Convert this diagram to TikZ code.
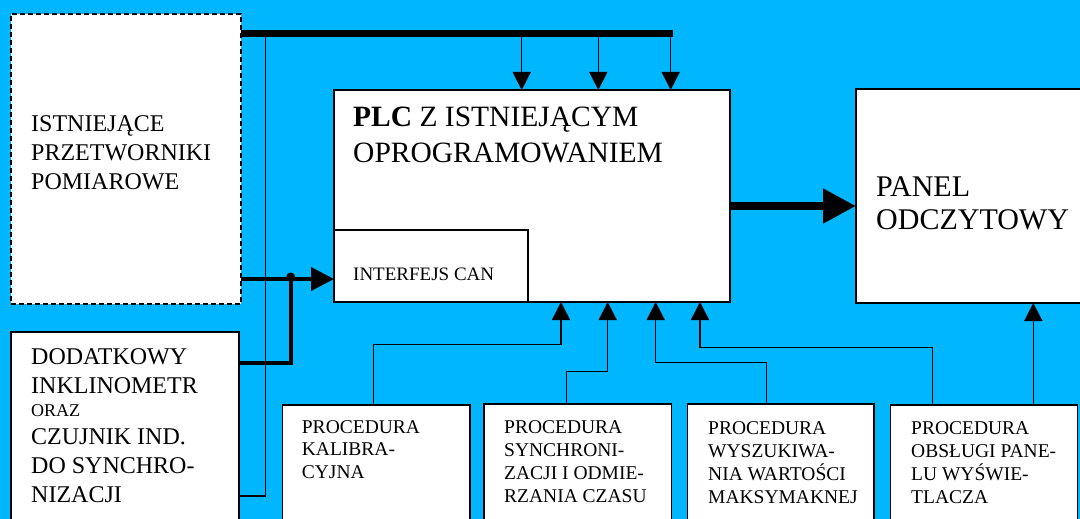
\documentclass[tikz,border=0pt]{standalone}
\usepackage{fontspec}
\setmainfont{Liberation Serif}
\usetikzlibrary{arrows.meta}
\definecolor{bg}{RGB}{0,183,255}
\begin{document}
\begin{tikzpicture}[x=1pt,y=-1pt,
  box/.style={draw=black,line width=1.5pt,fill=white,rectangle,inner sep=0pt,outer sep=0pt,anchor=north west},
  txt/.style={anchor=base west,inner sep=0pt,align=left},
  thinline/.style={line width=1.5pt},
  arr/.style={thinline,-{Triangle[length=18pt,width=18pt]}},
  busline/.style={line width=7pt},
  canline/.style={line width=4pt},
]
\useasboundingbox (0,0) rectangle (1080,519);
\clip (0,0) rectangle (1080,519);
\fill[bg] (0,0) rectangle (1080,519);

% boxes
\node[box,dash pattern=on 5pt off 3pt,minimum width=230pt,minimum height=290pt] (ist) at (11,14) {};
\node[box,minimum width=228pt,minimum height=200pt] (dod) at (11,332) {};
\node[box,minimum width=396pt,minimum height=212pt] (plc) at (334,90) {};
\node[box,minimum width=194pt,minimum height=72pt] (can) at (334,230) {};
\node[box,minimum width=234pt,minimum height=214pt] (panel) at (856,89) {};
\node[box,minimum width=187.3pt,minimum height=130pt] (b1) at (282.7,405) {};
\node[box,minimum width=187.3pt,minimum height=130pt] (b2) at (484,404) {};
\node[box,minimum width=186.7pt,minimum height=130pt] (b3) at (687.3,404) {};
\node[box,minimum width=187pt,minimum height=130pt] (b4) at (890.7,405) {};

% texts (anchored at the baseline of the last line)
\node[txt,font=\fontsize{24}{28.7}\selectfont] (tist) at (31,189) {ISTNIEJĄCE\\PRZETWORNIKI\\POMIAROWE};
\node[txt,font=\fontsize{24}{29}\selectfont] (tdod) at (31,502.3) {DODATKOWY\\INKLINOMETR\\[-5.6pt]{\fontsize{18}{20}\selectfont ORAZ}\\[-1.4pt]CZUJNIK IND.\\DO SYNCHRO-\\NIZACJI};
\node[txt,font=\fontsize{29.5}{35.3}\selectfont] (tplc) at (353,162) {\textbf{PLC} Z ISTNIEJĄCYM\\OPROGRAMOWANIEM};
\node[txt,font=\fontsize{19}{22}\selectfont] (tcan) at (353,280) {INTERFEJS CAN};
\node[txt,font=\fontsize{30}{33.3}\selectfont] (tpanel) at (876,229.3) {PANEL\\ODCZYTOWY};
\node[txt,font=\fontsize{19.5}{22.6}\selectfont] (tb1) at (301.7,478.5) {PROCEDURA\\KALIBRA-\\CYJNA};
\node[txt,font=\fontsize{19.5}{23.1}\selectfont] (tb2) at (504,502.6) {PROCEDURA\\SYNCHRONI-\\ZACJI I ODMIE-\\RZANIA CZASU};
\node[txt,font=\fontsize{19.5}{23.1}\selectfont] (tb3) at (708,503.3) {PROCEDURA\\WYSZUKIWA-\\NIA WARTOŚCI\\MAKSYMAKNEJ};
\node[txt,font=\fontsize{19.5}{23.1}\selectfont] (tb4) at (911,503.3) {PROCEDURA\\OBSŁUGI PANE-\\LU WYŚWIE-\\TLACZA};

% top bus
\coordinate (busR) at (673,33.7);
\coordinate (d1) at (521.7,33.7);
\coordinate (d2) at (598.3,33.7);
\coordinate (d3) at (670.7,33.7);
\coordinate (v) at (265.7,33.7);
\coordinate (vb) at (265.7,496);
\draw[thinline] (v) -- (vb) -- (dod.east |- vb);
\draw[arr] (d1) -- (plc.north -| d1);
\draw[arr] (d2) -- (plc.north -| d2);
\draw[arr] (d3) -- (plc.north -| d3);
\draw[busline] (ist.east |- busR) -- (busR);

% CAN input
\coordinate (dot) at (290.7,279);
\coordinate (dk) at (290.7,362.7);
\draw[canline,-{Triangle[length=23pt,width=23pt]}] (ist.east |- dot) -- (can.west |- dot);
\draw[canline] (dod.east |- dk) -- (dk) -- (dot);
\fill (290.7,277) circle (4.5pt);

% PLC -> panel
\coordinate (mid) at (793,206);
\draw[line width=8pt,-{Triangle[length=33pt,width=33pt]}] (plc.east |- mid) -- (panel.west |- mid);

% procedures
\coordinate (k1) at (373.3,344.5);
\coordinate (k1b) at (561,344.5);
\coordinate (k2) at (566.7,371.7);
\coordinate (k2b) at (607.7,371.7);
\coordinate (k3) at (766.7,362.7);
\coordinate (k3b) at (655.7,362.7);
\coordinate (k4) at (932.7,347.3);
\coordinate (k4b) at (700,347.3);
\coordinate (k5) at (1033.3,380);
\draw[arr] (b1.north -| k1) -- (k1) -- (k1b) -- (plc.south -| k1b);
\draw[arr] (b2.north -| k2) -- (k2) -- (k2b) -- (plc.south -| k2b);
\draw[arr] (b3.north -| k3) -- (k3) -- (k3b) -- (plc.south -| k3b);
\draw[arr] (b4.north -| k4) -- (k4) -- (k4b) -- (plc.south -| k4b);
\draw[arr] (b4.north -| k5) -- (panel.south -| k5);
\end{tikzpicture}
\end{document}
